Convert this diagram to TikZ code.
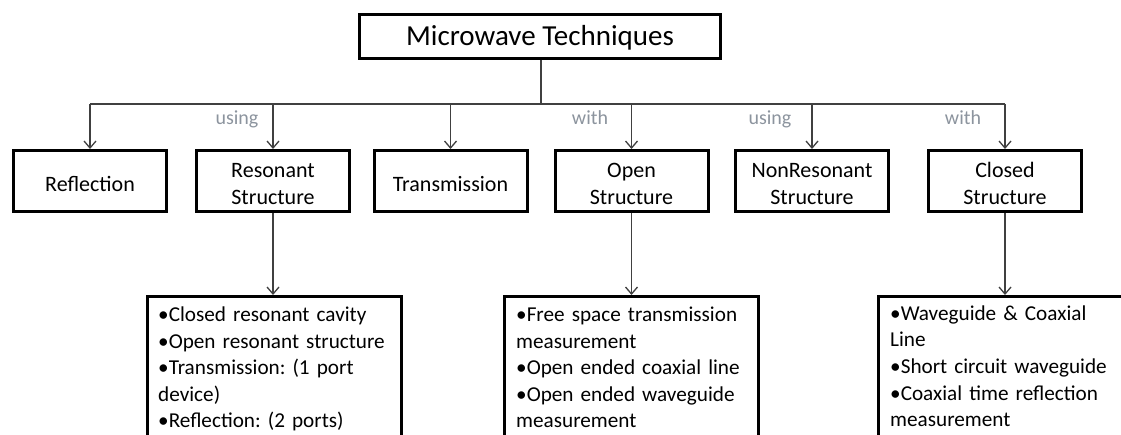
\documentclass[tikz,border=0pt]{standalone}
\usepackage{fontspec}
\setmainfont{Carlito}
\usetikzlibrary{arrows.meta}
\definecolor{conncol}{RGB}{64,64,64}
\definecolor{labcol}{RGB}{140,148,158}
\newcommand\rowstrut{\rule[-1.4pt]{0pt}{23.4pt}}
\newcommand\titlestrut{\rule[-4pt]{0pt}{26.4pt}}
\tikzset{
  titlebox/.style={draw=black, line width=3pt, minimum width=361pt, minimum height=44pt, inner sep=0pt, font=\fontsize{29}{32}\selectfont},
  rowbox/.style={draw=black, line width=3pt, minimum width=153pt, minimum height=61pt, inner sep=0pt, align=center, font=\fontsize{22}{27.3}\selectfont},
  listbox/.style={draw=black, line width=3pt, minimum width=254pt, minimum height=170pt, inner sep=0pt, anchor=north west},
  listtext/.style={inner sep=0pt, anchor=base west, text width=250pt, align=left, font=\fontsize{21.2}{26.5}\selectfont\frenchspacing},
  conn/.style={draw=conncol, line width=1.3pt},
  arr/.style={conn, -{Straight Barb[length=7pt,width=12pt,line width=1.3pt]}},
  via/.style={text=labcol, font=\fontsize{20}{24}\selectfont, inner sep=0pt, anchor=base}
}
\begin{document}
\begin{tikzpicture}[x=1pt, y=-1pt]
\useasboundingbox (0,0) rectangle (1121,435);
\clip (0,0) rectangle (1121,435);
\fill[white] (0,0) rectangle (1121,435);

\node[titlebox] (top) at (540,36.5) {\titlestrut Microwave Techniques};

\node[rowbox] (refl) at (90,181) {\rowstrut Reflection};
\node[rowbox] (reso) at (273,181) {\rowstrut Resonant\\Structure\rowstrut};
\node[rowbox] (trans) at (450.5,181) {\rowstrut Transmission};
\node[rowbox] (open) at (631.5,181) {\rowstrut Open\\Structure\rowstrut};
\node[rowbox] (nonr) at (812,181) {\rowstrut NonResonant\\Structure\rowstrut};
\node[rowbox] (clos) at (1005,181) {\rowstrut Closed\\Structure\rowstrut};

\coordinate (bus) at (0,104);
\draw[conn] (top.south -| 541,0) -- (541,104);
\draw[conn] (refl.north |- bus) -- (clos.north |- bus);
\foreach \n in {refl,reso,trans,open,nonr,clos}
  \draw[arr] (\n.north |- bus) -- (\n.north);

\node[via] (l1) at (237,124.5) {using};
\node[via] (l2) at (590,124.5) {with};
\node[via] (l3) at (770,124.5) {using};
\node[via] (l4) at (963,124.5) {with};

\node[listbox] (b1) at (146,295) {};
\node[listbox] (b2) at (503,295) {};
\node[listbox, minimum width=280pt] (b3) at (877,295) {};

\draw[arr] (reso.south) -- (reso.south |- b1.north);
\draw[arr] (open.south) -- (open.south |- b2.north);
\draw[arr] (clos.south) -- (clos.south |- b3.north);

\node[listtext] (t1) at (158,322) {•Closed resonant cavity\\•Open resonant structure\\•Transmission: (1 port\\device)\\•Reflection: (2 ports)};
\node[listtext] (t2) at (516,322) {•Free space transmission\\measurement\\•Open ended coaxial line\\•Open ended waveguide\\measurement};
\node[listtext] (t3) at (890,320.5) {•Waveguide \& Coaxial\\Line\\•Short circuit waveguide\\•Coaxial time reflection\\measurement};
\end{tikzpicture}
\end{document}
